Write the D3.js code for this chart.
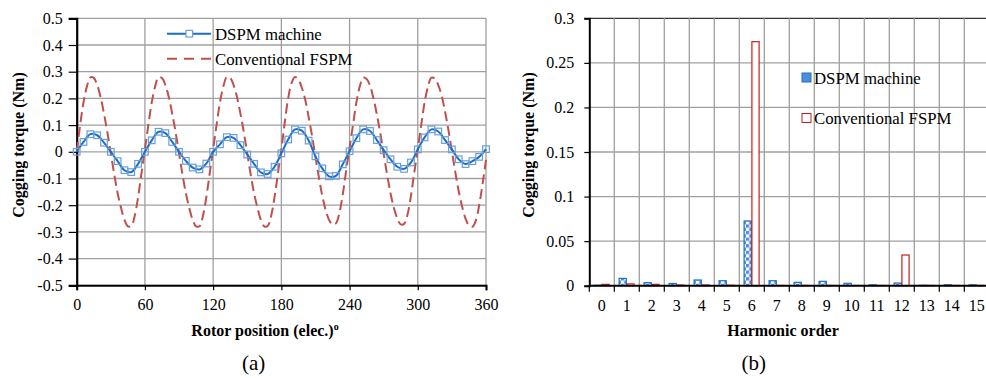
<!DOCTYPE html>
<html lang="en">
<head>
<meta charset="UTF-8">
<title>Cogging torque</title>
<script src="https://cdn.jsdelivr.net/npm/d3@7"></script>
<style>
  body { margin: 0; background: #fff; }
  svg { display: block; }
  svg text { font-family: "Liberation Serif", "Times New Roman", serif; fill: #000; }
  .tick text { font-size: 16px; }
</style>
</head>
<body>
<svg id="chart" width="986" height="378"></svg>
<script>
// ---- data: waveform (a) ----
// DSPM machine, one marker every 6 elec. degrees
const dspmAngle = d3.range(0, 361, 6);
const dspmTorque = [
  0, 0.037, 0.066, 0.062, 0.034, 0, -0.035, -0.069, -0.076, -0.045,
  0, 0.043, 0.075, 0.070, 0.037, 0, -0.034, -0.059, -0.066, -0.044,
  0, 0.028, 0.055, 0.052, 0.025, -0.010, -0.045, -0.077, -0.083, -0.056,
  -0.006, 0.046, 0.084, 0.079, 0.042, -0.017, -0.062, -0.092, -0.090, -0.047,
  0.002, 0.051, 0.084, 0.078, 0.044, 0.006, -0.028, -0.056, -0.064, -0.040,
  0.009, 0.054, 0.084, 0.076, 0.044, 0.009, -0.028, -0.046, -0.035, -0.019,
  0.010
];
// conventional FSPM, read every 3 elec. degrees
const fspmAngle = d3.range(0, 361, 3);
const fspmTorque = [
  0, 0.100, 0.185, 0.245, 0.279, 0.277, 0.250, 0.205, 0.143, 0.073,
  -0.006, -0.084, -0.155, -0.210, -0.255, -0.279, -0.278, -0.240, -0.170, -0.080,
  0.010, 0.100, 0.185, 0.245, 0.280, 0.276, 0.250, 0.205, 0.143, 0.073,
  -0.006, -0.084, -0.155, -0.210, -0.255, -0.279, -0.279, -0.240, -0.170, -0.080,
  0.010, 0.100, 0.185, 0.245, 0.280, 0.277, 0.250, 0.205, 0.143, 0.073,
  -0.006, -0.084, -0.155, -0.210, -0.255, -0.279, -0.278, -0.240, -0.170, -0.080,
  0.010, 0.110, 0.200, 0.258, 0.280, 0.270, 0.240, 0.195, 0.130, 0.060,
  -0.020, -0.095, -0.165, -0.218, -0.255, -0.272, -0.268, -0.230, -0.160, -0.070,
  0.015, 0.100, 0.185, 0.245, 0.278, 0.273, 0.248, 0.200, 0.140, 0.070,
  -0.008, -0.085, -0.155, -0.210, -0.250, -0.272, -0.270, -0.235, -0.165, -0.075,
  0.010, 0.100, 0.185, 0.245, 0.278, 0.274, 0.250, 0.210, 0.150, 0.080,
  0.002, -0.076, -0.148, -0.205, -0.250, -0.276, -0.281, -0.258, -0.200, -0.120,
  -0.030
];
const xTicksA = [0, 60, 120, 180, 240, 300, 360];
const yTicksA = [-0.5, -0.4, -0.3, -0.2, -0.1, 0, 0.1, 0.2, 0.3, 0.4, 0.5];

// ---- data: harmonic spectrum (b) ----
const harmonics = d3.range(0, 16);
const seriesNames = ["DSPM machine", "Conventional FSPM"];
const dspmHarm = [0.0005, 0.0082, 0.0034, 0.0025, 0.0064, 0.0056, 0.0726, 0.0056,
                  0.0038, 0.0049, 0.0027, 0.001, 0.003, 0.0005, 0.001, 0.001];
const fspmHarm = [0.0015, 0.002, 0.0015, 0.0008, 0.0008, 0.0005, 0.2738, 0.0003,
                  0.0003, 0.0003, 0.0003, 0.0003, 0.0344, 0.0003, 0.0003, 0.0003];
const yTicksB = [0, 0.05, 0.1, 0.15, 0.2, 0.25, 0.3];

const serif = "Liberation Serif, Times New Roman, serif";
const svg = d3.select("#chart").attr("font-family", serif);
const gridColor = "#a0a0a0";
const blue = "#1a6fc4";
const red = "#c0504d";

// pattern for checkered DSPM bars
const defs = svg.append("defs");
const pat = defs.append("pattern").attr("id", "checker")
  .attr("patternUnits", "userSpaceOnUse").attr("width", 6.6).attr("height", 6.6);
pat.append("rect").attr("width", 6.6).attr("height", 6.6).attr("fill", "#fff");
pat.append("rect").attr("width", 3.3).attr("height", 3.3).attr("fill", "#4a8fdc");
pat.append("rect").attr("x", 3.3).attr("y", 3.3).attr("width", 3.3).attr("height", 3.3).attr("fill", "#4a8fdc");

// ================= chart (a) =================
const xA = d3.scaleLinear().domain([0, 360]).range([76.7, 486]);
const yA = d3.scaleLinear().domain([-0.5, 0.5]).range([285.3, 18.3]);
const gA = svg.append("g");

// grid
gA.append("g").selectAll("line").data(yTicksA).join("line")
  .attr("x1", xA(0)).attr("x2", xA(360))
  .attr("y1", d => yA(d)).attr("y2", d => yA(d))
  .attr("stroke", gridColor).attr("stroke-width", 1.3);
gA.append("g").selectAll("line").data(xTicksA.slice(1)).join("line")
  .attr("x1", d => xA(d)).attr("x2", d => xA(d))
  .attr("y1", yA(0.5)).attr("y2", yA(-0.5))
  .attr("stroke", gridColor).attr("stroke-width", 1.3);

// axes
const axA_y = gA.append("g").attr("transform", `translate(${xA(0)},0)`)
  .call(d3.axisLeft(yA).tickValues(yTicksA).tickSize(8).tickPadding(6)
    .tickFormat(d => String(+d.toFixed(1))))
  .attr("font-family", serif).attr("font-size", 16);
axA_y.select(".domain").attr("stroke", "#000").attr("stroke-width", 2.2);
axA_y.selectAll(".tick line").attr("stroke", "#000").attr("stroke-width", 1.2);

const axA_x = gA.append("g").attr("transform", `translate(0,${yA(-0.5)})`)
  .call(d3.axisBottom(xA).tickValues(xTicksA).tickSize(5).tickPadding(8).tickFormat(d3.format("d")))
  .attr("font-family", serif).attr("font-size", 16);
axA_x.select(".domain").attr("stroke", "#000").attr("stroke-width", 2);
axA_x.selectAll(".tick line").attr("stroke", "#000").attr("stroke-width", 1.2);

// lines
const fspmPts = fspmAngle.map((a, i) => [a, fspmTorque[i]]);
const dspmPts = dspmAngle.map((a, i) => [a, dspmTorque[i]]);
const lineA = d3.line().x(d => xA(d[0])).y(d => yA(d[1])).curve(d3.curveCatmullRom);

gA.append("path").datum(fspmPts).attr("d", lineA)
  .attr("fill", "none").attr("stroke", red).attr("stroke-width", 2)
  .attr("stroke-dasharray", "10,5");
gA.append("path").datum(dspmPts).attr("d", lineA)
  .attr("fill", "none").attr("stroke", blue).attr("stroke-width", 2);
gA.append("g").selectAll("rect").data(dspmPts).join("rect")
  .attr("x", d => xA(d[0]) - 3.3).attr("y", d => yA(d[1]) - 3.3)
  .attr("width", 6.6).attr("height", 6.6)
  .attr("fill", "none").attr("stroke", "#6b9edc").attr("stroke-width", 1.2);

// legend (a)
const legA = gA.append("g");
legA.append("line").attr("x1", 167).attr("x2", 211).attr("y1", 33.7).attr("y2", 33.7)
  .attr("stroke", blue).attr("stroke-width", 2);
legA.append("rect").attr("x", 186).attr("y", 30.4).attr("width", 6.6).attr("height", 6.6)
  .attr("fill", "#fff").attr("stroke", "#6b9edc").attr("stroke-width", 1.2);
legA.append("line").attr("x1", 167).attr("x2", 211).attr("y1", 58.7).attr("y2", 58.7)
  .attr("stroke", red).attr("stroke-width", 2).attr("stroke-dasharray", "10,7");
legA.append("text").attr("x", 215).attr("y", 34).attr("dy", "0.35em")
  .attr("font-size", 16.8).text(seriesNames[0]);
legA.append("text").attr("x", 215).attr("y", 59).attr("dy", "0.35em")
  .attr("font-size", 16.8).text(seriesNames[1]);

// titles (a)
gA.append("text").attr("transform", "translate(18,145) rotate(-90)")
  .attr("text-anchor", "middle").attr("dy", "0.35em")
  .attr("font-size", 16).attr("font-weight", "bold").text("Cogging torque (Nm)");
const tA = gA.append("text").attr("x", 265).attr("y", 336).attr("text-anchor", "middle")
  .attr("font-size", 16).attr("font-weight", "bold");
tA.append("tspan").text("Rotor position (elec.)");
tA.append("tspan").attr("font-size", 10).attr("dy", -6).text("o");
gA.append("text").attr("x", 253.7).attr("y", 370).attr("text-anchor", "middle")
  .attr("font-size", 21).text("(a)");

// ================= chart (b) =================
const xB = d3.scaleBand().domain(harmonics).range([589.3, 989.3]).paddingInner(0).paddingOuter(0);
const xSub = d3.scaleBand().domain(seriesNames).range([4.8, 19.8]).paddingInner(0.08);
const yB = d3.scaleLinear().domain([0, 0.3]).range([285.7, 18.3]);
const gB = svg.append("g");

gB.append("g").selectAll("line").data(yTicksB.slice(1)).join("line")
  .attr("x1", xB(0)).attr("x2", 989.3)
  .attr("y1", d => yB(d)).attr("y2", d => yB(d))
  .attr("stroke", d => d === 0.3 ? "#333" : gridColor).attr("stroke-width", 1.3);
gB.append("g").selectAll("line").data(harmonics.slice(1)).join("line")
  .attr("x1", d => xB(d)).attr("x2", d => xB(d))
  .attr("y1", yB(0.3)).attr("y2", yB(0))
  .attr("stroke", gridColor).attr("stroke-width", 1.3);

// bars
const barData = harmonics.map((h, i) => ({ h, vals: [dspmHarm[i], fspmHarm[i]] }));
const groups = gB.append("g").selectAll("g").data(barData).join("g")
  .attr("transform", d => `translate(${xB(d.h)},0)`);
groups.append("rect")
  .attr("x", xSub(seriesNames[0])).attr("width", xSub.bandwidth())
  .attr("y", d => yB(d.vals[0])).attr("height", d => yB(0) - yB(d.vals[0]))
  .attr("fill", "url(#checker)").attr("stroke", "#1f6fc8").attr("stroke-width", 1.2);
groups.append("rect")
  .attr("x", xSub(seriesNames[1])).attr("width", xSub.bandwidth())
  .attr("y", d => yB(d.vals[1])).attr("height", d => yB(0) - yB(d.vals[1]))
  .attr("fill", "#fff").attr("stroke", "#c81e1e").attr("stroke-width", 1.2);

// axes (b)
const axB_y = gB.append("g").attr("transform", `translate(${xB(0)},0)`)
  .call(d3.axisLeft(yB).tickValues(yTicksB).tickSize(5).tickPadding(10)
    .tickFormat(d => String(+d.toFixed(2))))
  .attr("font-family", serif).attr("font-size", 16);
axB_y.select(".domain").attr("stroke", "#000").attr("stroke-width", 2);
axB_y.selectAll(".tick line").attr("stroke", "#000").attr("stroke-width", 1.2);

const bounds = harmonics.map(h => xB(h)).concat([989.3]);
const axB_x = gB.append("g").attr("transform", `translate(0,${yB(0)})`);
axB_x.append("line").attr("x1", xB(0)).attr("x2", 989.3).attr("stroke", "#000").attr("stroke-width", 2);
axB_x.selectAll("line.tk").data(bounds).join("line").attr("class", "tk")
  .attr("x1", d => d).attr("x2", d => d).attr("y1", 0).attr("y2", 6)
  .attr("stroke", "#000").attr("stroke-width", 1.2);
axB_x.selectAll("text").data(harmonics).join("text")
  .attr("x", d => xB(d) + xB.bandwidth() / 2).attr("y", 25)
  .attr("text-anchor", "middle").attr("font-size", 16).text(d => d);

// legend (b)
const legB = gB.append("g");
legB.append("rect").attr("x", 802).attr("y", 73).attr("width", 9).attr("height", 9)
  .attr("fill", "#4a8fdc").attr("stroke", "#1f6fc8").attr("stroke-width", 1);
legB.append("rect").attr("x", 802).attr("y", 113.5).attr("width", 9).attr("height", 9)
  .attr("fill", "#fff").attr("stroke", "#c81e1e").attr("stroke-width", 1);
legB.append("text").attr("x", 814).attr("y", 78).attr("dy", "0.35em")
  .attr("font-size", 16.8).text(seriesNames[0]);
legB.append("text").attr("x", 814).attr("y", 118).attr("dy", "0.35em")
  .attr("font-size", 16.8).text(seriesNames[1]);

// titles (b)
gB.append("text").attr("transform", "translate(528,145) rotate(-90)")
  .attr("text-anchor", "middle").attr("dy", "0.35em")
  .attr("font-size", 16).attr("font-weight", "bold").text("Cogging torque (Nm)");
gB.append("text").attr("x", 783).attr("y", 336).attr("text-anchor", "middle")
  .attr("font-size", 16).attr("font-weight", "bold").text("Harmonic order");
gB.append("text").attr("x", 753.7).attr("y", 370).attr("text-anchor", "middle")
  .attr("font-size", 21).text("(b)");
</script>
</body>
</html>
